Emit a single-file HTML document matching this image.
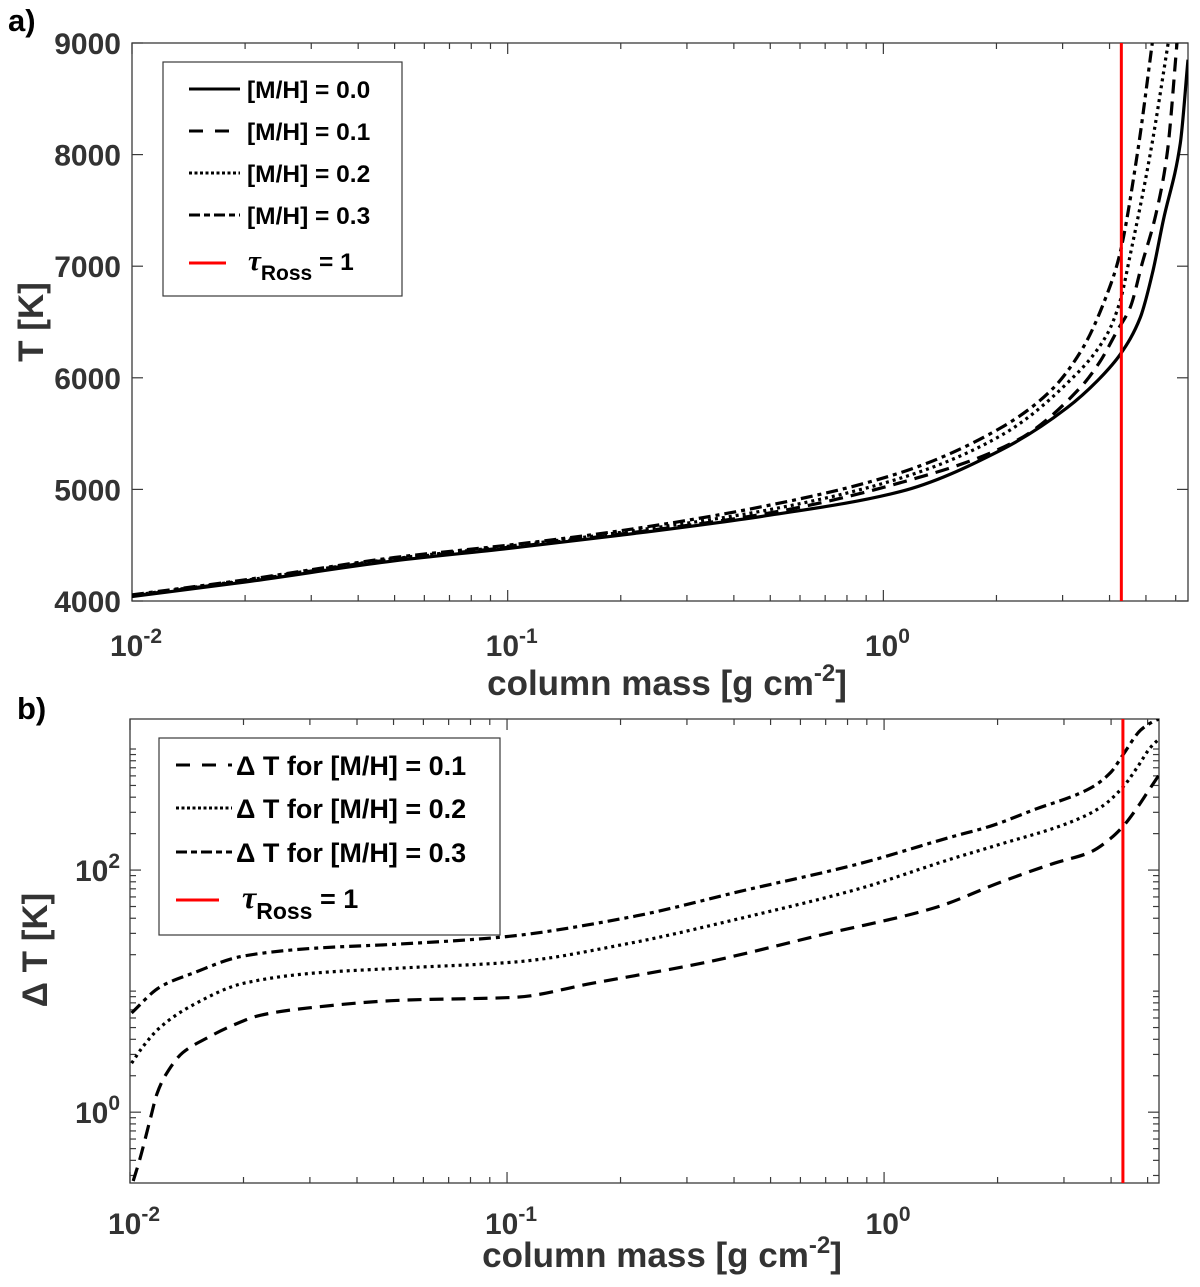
<!DOCTYPE html>
<html><head><meta charset="utf-8"><style>
html,body{margin:0;padding:0;background:#fff;}
svg{display:block;font-family:"Liberation Sans",Arial,sans-serif;font-weight:bold;}
</style></head><body>
<svg id="fig" width="1200" height="1287" viewBox="0 0 1200 1287" xmlns="http://www.w3.org/2000/svg">
<text x="8" y="31" font-size="31" fill="#000">a)</text>
<text x="17" y="719" font-size="31" fill="#000">b)</text>
<g id="pa"></g>
<g id="pb"></g>
</svg>
<script>
// ---- Panel a data ----
const mA0 = [0.01,0.02,0.05,0.1,0.2,0.5,1.11,2.05,3.08,3.78,4.27,4.83,5.22,5.56,6.17,6.47];
const tA0 = [4040,4170,4360,4470,4590,4770,4980,5350,5730,6000,6210,6540,6960,7410,8100,8850];
const mA1 = [0.01,0.02,0.05,0.1,0.2,0.5,1.11,2.27,3.34,3.78,4.19,4.54,4.88,5.3,5.69,6.05];
const tA1 = [4045,4180,4375,4480,4600,4790,5060,5440,5910,6150,6420,6630,7020,7450,8000,9000];
const mA2 = [0.01,0.02,0.05,0.1,0.2,0.5,1.11,2.05,3.08,3.94,4.27,4.54,5.13,5.73];
const tA2 = [4050,4185,4380,4490,4615,4820,5100,5480,5950,6390,6690,7100,8000,9000];
const mA3 = [0.01,0.02,0.05,0.1,0.2,0.5,1.11,2.05,2.78,3.4,3.94,4.24,4.74,5.2];
const tA3 = [4055,4190,4390,4500,4630,4860,5150,5550,5880,6270,6750,7080,8000,9000];
const yTicksA = [4000,5000,6000,7000,8000,9000];
const tauRoss = 4.3;
// ---- Panel b data ----
const mB1 = [0.0102,0.0106,0.0113,0.0118,0.0124,0.0138,0.016,0.0188,0.0221,0.0301,0.052,0.105,0.168,0.34,0.68,1.38,2.04,2.83,3.53,4.0,4.33,4.7,5.1,5.36];
const dB1 = [0.27,0.40,0.86,1.43,2.0,3.1,4.1,5.24,6.3,7.3,8.4,8.9,11.6,17.4,29.1,49.4,79.6,114,141,184,235,330,485,610];
const mB2 = [0.0101,0.0108,0.012,0.0147,0.02,0.0301,0.052,0.105,0.212,0.43,0.87,1.5,2.0,3.08,3.76,4.3,4.7,5.1,5.36];
const dB2 = [2.54,3.45,5.0,7.7,11.6,14,15.5,17.4,24.9,40.9,71,123,161,245,331,485,710,1040,1210];
const mB3 = [0.0101,0.012,0.0147,0.02,0.0301,0.052,0.096,0.212,0.43,0.87,1.5,1.91,2.49,3.53,4.0,4.3,4.8,5.2,5.36];
const dB3 = [6.6,10.8,14.1,19.5,22.5,24.5,27.9,40.9,68.4,114,187,230,314,476,646,894,1440,1700,1770];
const xTickExp = [-2,-1,0];
const yTickExpB = [0,2];

const NS="http://www.w3.org/2000/svg";
function mk(tag, parent){const e=document.createElementNS(NS,tag);parent.appendChild(e);return e;}
const AX="#3a3a3a";

function monoPath(pts){
  const n=pts.length; const dx=[],s=[];
  for(let i=0;i<n-1;i++){dx.push(pts[i+1][0]-pts[i][0]); s.push((pts[i+1][1]-pts[i][1])/dx[i]);}
  const m=new Array(n);
  m[0]=s[0]; m[n-1]=s[n-2];
  for(let i=1;i<n-1;i++){ if(s[i-1]*s[i]<=0) m[i]=0; else { const w1=2*dx[i]+dx[i-1], w2=dx[i]+2*dx[i-1]; m[i]=(w1+w2)/(w1/s[i-1]+w2/s[i]); } }
  let d="M"+pts[0][0].toFixed(1)+","+pts[0][1].toFixed(1);
  for(let i=0;i<n-1;i++){
    const h=dx[i];
    d+=" C"+(pts[i][0]+h/3).toFixed(1)+","+(pts[i][1]+m[i]*h/3).toFixed(1)+" "+(pts[i+1][0]-h/3).toFixed(1)+","+(pts[i+1][1]-m[i+1]*h/3).toFixed(1)+" "+pts[i+1][0].toFixed(1)+","+pts[i+1][1].toFixed(1);
  }
  return d;
}

function drawSeries(g, xs, ys, sx, sy, dash, name, clipId){
  const pts = xs.map((v,i)=>[sx(v), sy(ys[i])]);
  const p = mk("path", g);
  p.setAttribute("d", monoPath(pts));
  p.setAttribute("fill","none");
  p.setAttribute("stroke","#000");
  p.setAttribute("stroke-width","3.2");
  p.setAttribute("clip-path","url(#"+clipId+")");
  if(dash) p.setAttribute("stroke-dasharray", dash);
  
  
}

function line(g,x1,y1,x2,y2,stroke,w){
  const l=mk("line",g);l.setAttribute("x1",x1);l.setAttribute("y1",y1);l.setAttribute("x2",x2);l.setAttribute("y2",y2);
  l.setAttribute("stroke",stroke);l.setAttribute("stroke-width",w);return l;
}
function powLabel(g,x,y,exp,name){
  const t=mk("text",g);t.setAttribute("x",x);t.setAttribute("y",y);t.setAttribute("font-size","30");t.setAttribute("fill","#333");t.setAttribute("text-anchor","middle");
  t.innerHTML='10<tspan dy="-13" font-size="21">'+exp+'</tspan>';
  
  
  return t;
}
function addClip(id,L,T,W,H){
  const svg=document.getElementById("fig");
  let defs=svg.querySelector("defs"); if(!defs){defs=document.createElementNS(NS,"defs");svg.insertBefore(defs,svg.firstChild);}
  const c=mk("clipPath",defs);c.setAttribute("id",id);
  const r=mk("rect",c);r.setAttribute("x",L);r.setAttribute("y",T);r.setAttribute("width",W);r.setAttribute("height",H);
}
function xLogTicks(g,L,R,T,B,xmin,xmax,sx){
  for(let k=-2;k<=0;k++){
    for(let j=1;j<=9;j++){
      const v=j*Math.pow(10,k); if(v<xmin||v>xmax) continue;
      const x=sx(v); const len=(j===1)?11:6;
      line(g,x,B,x,B-len,AX,1.2); line(g,x,T,x,T+len,AX,1.2);
    }
  }
}

// ================= Panel a =================
(function(){
  const g=document.getElementById("pa");
  const L=132,R=1188,T=43,B=601;
  const xmin=0.01,xmax=6.47,ymin=4000,ymax=9000;
  const sx=v=>L+(Math.log10(v)-Math.log10(xmin))/(Math.log10(xmax)-Math.log10(xmin))*(R-L);
  const sy=v=>B-(v-ymin)/(ymax-ymin)*(B-T);
  addClip("clipA",L,T,R-L,B-T);
  const box=mk("rect",g);box.setAttribute("x",L);box.setAttribute("y",T);box.setAttribute("width",R-L);box.setAttribute("height",B-T);box.setAttribute("fill","none");box.setAttribute("stroke",AX);box.setAttribute("stroke-width","1.3");
  
  
  xLogTicks(g,L,R,T,B,xmin,xmax,sx);
  yTicksA.forEach(v=>{
    const y=sy(v);
    line(g,L,y,L+11,y,AX,1.2); line(g,R,y,R-11,y,AX,1.2);
    const t=mk("text",g);t.setAttribute("x",L-11);t.setAttribute("y",y+11);t.setAttribute("font-size","30");t.setAttribute("fill","#333");t.setAttribute("text-anchor","end");t.textContent=v;
    
    
  });
  xTickExp.forEach(e=>{ powLabel(g,sx(Math.pow(10,e))+4,656,e,'x-tick-label-a'); });
  const xl=mk("text",g);xl.setAttribute("x",667);xl.setAttribute("y",695);xl.setAttribute("font-size","35");xl.setAttribute("fill","#333");xl.setAttribute("text-anchor","middle");
  xl.innerHTML='column mass [g cm<tspan dy="-14" font-size="24">-2</tspan><tspan dy="14">]</tspan>';
  
  
  const yl=mk("text",g);yl.setAttribute("transform","translate(43,322) rotate(-90)");yl.setAttribute("font-size","35");yl.setAttribute("fill","#333");yl.setAttribute("text-anchor","middle");yl.textContent="T [K]";
  
  

  drawSeries(g,mA0,tA0,sx,sy,null,'series-mh-0.0','clipA');
  drawSeries(g,mA1,tA1,sx,sy,"14 8",'series-mh-0.1','clipA');
  drawSeries(g,mA2,tA2,sx,sy,"3 4",'series-mh-0.2','clipA');
  drawSeries(g,mA3,tA3,sx,sy,"12 5 4 5",'series-mh-0.3','clipA');
  const rl=line(g,sx(tauRoss),T,sx(tauRoss),B,"#ff0000",3);
  
  

  const lg=mk("g",g);
  
  
  const lb=mk("rect",lg);lb.setAttribute("x",163);lb.setAttribute("y",62);lb.setAttribute("width",239);lb.setAttribute("height",234);lb.setAttribute("fill","#fff");lb.setAttribute("stroke",AX);lb.setAttribute("stroke-width","1.2");
  const labs=["[M/H] = 0.0","[M/H] = 0.1","[M/H] = 0.2","[M/H] = 0.3"];
  const dashes=[null,"14 12","3 2.5","11 4 6 4"];
  const ys=[89,131,173,215];
  labs.forEach((s,i)=>{
    const l=line(lg,189,ys[i],240,ys[i],"#000",3); if(dashes[i]) l.setAttribute("stroke-dasharray",dashes[i]);
    const t=mk("text",lg);t.setAttribute("x",247);t.setAttribute("y",ys[i]+9);t.setAttribute("font-size","24.5");t.setAttribute("fill","#000");t.textContent=s;
    
    
  });
  line(lg,189,263,226,263,"#ff0000",3);
  const tt=mk("text",lg);tt.setAttribute("x",248);tt.setAttribute("y",270);tt.setAttribute("font-size","24.5");tt.setAttribute("fill","#000");
  tt.innerHTML='<tspan font-family="Liberation Serif,serif" font-style="italic" font-size="29">τ</tspan><tspan dy="10" font-size="21">Ross</tspan><tspan dy="-10"> = 1</tspan>';
  
  
})();

// ================= Panel b =================
(function(){
  const g=document.getElementById("pb");
  const L=130,R=1159,T=719,B=1183;
  const xmin=0.01,xmax=5.36;
  const yLo=0.26,yHi=1770;
  const sx=v=>L+(Math.log10(v)-Math.log10(xmin))/(Math.log10(xmax)-Math.log10(xmin))*(R-L);
  const sy=v=>B-(Math.log10(v)-Math.log10(yLo))/(Math.log10(yHi)-Math.log10(yLo))*(B-T);
  addClip("clipB",L,T,R-L,B-T);
  const box=mk("rect",g);box.setAttribute("x",L);box.setAttribute("y",T);box.setAttribute("width",R-L);box.setAttribute("height",B-T);box.setAttribute("fill","none");box.setAttribute("stroke",AX);box.setAttribute("stroke-width","1.3");
  
  
  xLogTicks(g,L,R,T,B,xmin,xmax,sx);
  for(let k=-1;k<=3;k++){for(let j=1;j<=9;j++){
    const v=j*Math.pow(10,k); if(v<yLo||v>yHi) continue;
    const y=sy(v); const len=(j===1&&(k===0||k===2))?11:6;
    line(g,L,y,L+len,y,AX,1.2); line(g,R,y,R-len,y,AX,1.2);
  }}
  yTickExpB.forEach(e=>{
    const y=sy(Math.pow(10,e));
    const t=mk("text",g);t.setAttribute("x",L-10);t.setAttribute("y",y+11);t.setAttribute("font-size","30");t.setAttribute("fill","#333");t.setAttribute("text-anchor","end");
    t.innerHTML='10<tspan dy="-13" font-size="21">'+e+'</tspan>';
    
    
  });
  xTickExp.forEach(e=>{ powLabel(g,sx(Math.pow(10,e))+4,1234,e,'x-tick-label-b'); });
  const xl=mk("text",g);xl.setAttribute("x",662);xl.setAttribute("y",1267);xl.setAttribute("font-size","35");xl.setAttribute("fill","#333");xl.setAttribute("text-anchor","middle");
  xl.innerHTML='column mass [g cm<tspan dy="-14" font-size="24">-2</tspan><tspan dy="14">]</tspan>';
  
  
  const yl=mk("text",g);yl.setAttribute("transform","translate(47,950) rotate(-90)");yl.setAttribute("font-size","35");yl.setAttribute("fill","#333");yl.setAttribute("text-anchor","middle");yl.textContent="Δ T [K]";
  
  

  drawSeries(g,mB1,dB1,sx,sy,"14 8",'series-dt-0.1','clipB');
  drawSeries(g,mB2,dB2,sx,sy,"3 4",'series-dt-0.2','clipB');
  drawSeries(g,mB3,dB3,sx,sy,"12 5 4 5",'series-dt-0.3','clipB');
  const rl=line(g,sx(tauRoss),T,sx(tauRoss),B,"#ff0000",3);
  
  

  const lg=mk("g",g);
  
  
  const lb=mk("rect",lg);lb.setAttribute("x",159);lb.setAttribute("y",738);lb.setAttribute("width",341);lb.setAttribute("height",197);lb.setAttribute("fill","#fff");lb.setAttribute("stroke",AX);lb.setAttribute("stroke-width","1.2");
  const labs=["Δ T for [M/H] = 0.1","Δ T for [M/H] = 0.2","Δ T for [M/H] = 0.3"];
  const dashes=["14 12","3 2.5","11 4 6 4"];
  const ys=[765,808,852];
  labs.forEach((s,i)=>{
    const l=line(lg,176,ys[i],232,ys[i],"#000",3); l.setAttribute("stroke-dasharray",dashes[i]);
    const t=mk("text",lg);t.setAttribute("x",236);t.setAttribute("y",ys[i]+10);t.setAttribute("font-size","27");t.setAttribute("fill","#000");t.textContent=s;
    
    
  });
  line(lg,176,900,219,900,"#ff0000",3);
  const tt=mk("text",lg);tt.setAttribute("x",242);tt.setAttribute("y",908);tt.setAttribute("font-size","27");tt.setAttribute("fill","#000");
  tt.innerHTML='<tspan font-family="Liberation Serif,serif" font-style="italic" font-size="32">τ</tspan><tspan dy="11" font-size="23">Ross</tspan><tspan dy="-11"> = 1</tspan>';
  
  
})();
</script>
</body></html>
